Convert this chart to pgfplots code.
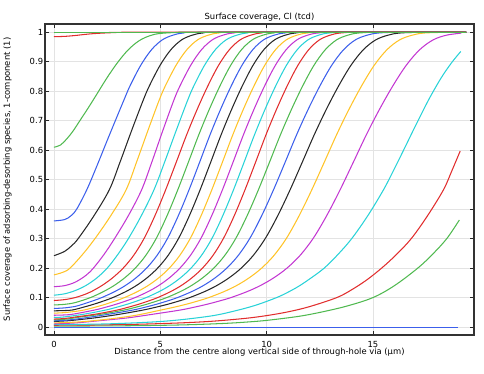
\documentclass[border=0pt]{standalone}
\usepackage{pgfplots}
\pgfplotsset{compat=1.18}
\usepackage{fontspec}
\setmainfont{DejaVu Sans}
\definecolor{colB}{RGB}{60,95,235}
\definecolor{colG}{RGB}{80,185,80}
\definecolor{colR}{RGB}{225,45,45}
\definecolor{colC}{RGB}{40,210,215}
\definecolor{colM}{RGB}{195,55,210}
\definecolor{colY}{RGB}{255,195,40}
\definecolor{colK}{RGB}{40,40,40}
\newcommand{\lblfont}{\fontsize{8.4}{10}\selectfont}
\pgfplotsset{cl/.style={line width=1.05pt, smooth, tension=0.55, mark=none}}
\begin{document}
\begin{tikzpicture}
\path[use as bounding box] (-45pt,-38pt) rectangle (439pt,335pt);
\begin{axis}[
  at={(0pt,0pt)}, anchor=south west, scale only axis,
  width=429pt, height=311pt,
  xmin=-0.42, xmax=19.75, ymin=-0.027, ymax=1.028,
  xtick={0,5,10,15}, xticklabels={0,5,10,15},
  ytick={0,0.1,0.2,0.3,0.4,0.5,0.6,0.7,0.8,0.9,1},
  yticklabels={0,0.1,0.2,0.3,0.4,0.5,0.6,0.7,0.8,0.9,1},
  grid=major, major grid style={draw=black!11, line width=0.7pt},
  tick align=inside, major tick length=4pt,
  tick style={black!85, line width=0.8pt},
  axis line style={black!80, line width=1.2pt},
  every tick label/.append style={font=\lblfont},
  yticklabel style={inner sep=0pt, xshift=-1.7pt},
  xticklabel style={inner sep=0pt, yshift=-6pt},
]
\addplot[cl,colB] coordinates {(0,0) (18.99,0)};
% green, ends at 0.363
\addplot[cl,colG] coordinates {(0,0.0032)(3,0.0041)(5,0.0058)(6.5,0.0082)(8,0.0123)(9,0.0166)(10,0.0226)(11.5,0.0362)(12.59,0.051)(13.8,0.0717)(15.0,0.100)(16.0,0.140)(17.1,0.1995)(17.8,0.2468)(18.47,0.300)(19.06,0.363)};
% red, ends at 0.597
\addplot[cl,colR] coordinates {(0,0.0061)(2,0.0071)(4,0.0096)(6,0.0142)(7.5,0.020)(9,0.0295)(10,0.0388)(11,0.0515)(12,0.0689)(13.3,0.100)(14.0,0.1266)(14.7,0.1595)(15.4,0.1995)(16.1,0.2458)(16.8,0.300)(17.55,0.3759)(18.31,0.465)(18.7,0.5286)(19.10,0.597)};
% cyan, ends at 0.935
\addplot[cl,colC] coordinates {(0,0.008)(2.62,0.011)(5.24,0.020)(7.33,0.037)(8.5,0.0546)(9.5,0.0744)(10.47,0.100)(11.0,0.118)(11.5,0.138)(12.0,0.162)(12.7,0.1995)(13.35,0.246)(14.0,0.300)(14.75,0.377)(15.49,0.465)(16.0,0.536)(16.5,0.609)(17.0,0.683)(17.61,0.770)(18.2,0.8445)(18.7,0.897)(19.13,0.935)};
% magenta
\addplot[cl,colM] coordinates {(0,0.011)(1.0,0.014)(2.2,0.022)(3.45,0.031)(4.70,0.044)(5.95,0.0578)(6.575,0.067)(7.2,0.0773)(7.825,0.0893)(8.325,0.100)(9.075,0.120)(9.70,0.1405)(10.325,0.1665)(10.95,0.1995)(11.575,0.2432)(12.2,0.302)(12.825,0.378)(13.45,0.465)(14.075,0.559)(14.7,0.654)(15.325,0.741)(15.95,0.820)(16.575,0.889)(17.2,0.941)(17.825,0.974)(18.45,0.990)(19.15,0.997)};
% yellow
\addplot[cl,colY] coordinates {(0,0.014)(0.8,0.016)(1.5,0.019)(2.68,0.028)(3.86,0.040)(5.04,0.0578)(5.63,0.067)(6.22,0.0773)(6.81,0.0893)(7.28,0.100)(7.99,0.120)(8.58,0.1405)(9.17,0.1665)(9.76,0.1995)(10.35,0.2432)(10.94,0.302)(11.53,0.378)(12.12,0.465)(12.71,0.559)(13.30,0.654)(13.89,0.741)(14.48,0.820)(15.07,0.889)(15.66,0.941)(16.25,0.974)(16.84,0.990)(17.43,0.9975)(18.61,1)(19.38,1)};
% black
\addplot[cl,colK] coordinates {(0,0.019)(0.75,0.022)(1.9,0.031)(3.05,0.043)(4.20,0.0578)(4.775,0.067)(5.35,0.0773)(5.925,0.0893)(6.385,0.100)(7.075,0.120)(7.65,0.1405)(8.225,0.1665)(8.80,0.1995)(9.375,0.2432)(9.95,0.302)(10.525,0.378)(11.10,0.465)(11.675,0.559)(12.25,0.654)(12.825,0.741)(13.40,0.820)(13.975,0.889)(14.55,0.941)(15.125,0.974)(15.70,0.990)(16.275,0.9975)(17.425,1)(19.38,1)};
% blue
\addplot[cl,colB] coordinates {(0,0.021)(0.75,0.0245)(1.52,0.0318)(2.62,0.044)(3.72,0.0578)(4.27,0.067)(4.82,0.0773)(5.37,0.0893)(5.81,0.100)(6.47,0.120)(7.02,0.1405)(7.57,0.1665)(8.12,0.1995)(8.67,0.2432)(9.22,0.302)(9.77,0.378)(10.32,0.465)(10.87,0.559)(11.42,0.654)(11.97,0.741)(12.52,0.820)(13.07,0.889)(13.62,0.941)(14.17,0.974)(14.72,0.990)(15.27,0.9975)(16.37,1)(19.38,1)};
% green
\addplot[cl,colG] coordinates {(0,0.024)(0.6,0.027)(1.21,0.0338)(2.26,0.044)(3.31,0.0578)(3.835,0.067)(4.36,0.0773)(4.885,0.0893)(5.305,0.100)(5.935,0.120)(6.46,0.1405)(6.985,0.1665)(7.51,0.1995)(8.035,0.2432)(8.56,0.302)(9.085,0.378)(9.61,0.465)(10.135,0.559)(10.66,0.654)(11.185,0.741)(11.71,0.820)(12.235,0.889)(12.76,0.941)(13.285,0.974)(13.81,0.990)(14.335,0.9975)(15.385,1)(19.38,1)};
% red
\addplot[cl,colR] coordinates {(0,0.027)(0.5,0.029)(0.98,0.0338)(1.98,0.044)(2.98,0.0578)(3.48,0.067)(3.98,0.0773)(4.48,0.0893)(4.88,0.100)(5.48,0.120)(5.98,0.1405)(6.48,0.1665)(6.98,0.1995)(7.48,0.2432)(7.98,0.302)(8.48,0.378)(8.98,0.465)(9.48,0.559)(9.98,0.654)(10.48,0.741)(10.98,0.820)(11.48,0.889)(11.98,0.941)(12.48,0.974)(12.98,0.990)(13.48,0.9975)(14.48,1)(19.38,1)};
% cyan
\addplot[cl,colC] coordinates {(0,0.033)(0.44,0.034)(1.44,0.044)(2.44,0.0578)(2.94,0.067)(3.44,0.0773)(3.94,0.0893)(4.34,0.100)(4.94,0.120)(5.44,0.1405)(5.94,0.1665)(6.44,0.1995)(6.94,0.2432)(7.44,0.302)(7.94,0.378)(8.44,0.465)(8.94,0.559)(9.44,0.654)(9.94,0.741)(10.44,0.820)(10.94,0.889)(11.44,0.941)(11.94,0.974)(12.44,0.990)(12.94,0.9975)(13.94,1)(19.38,1)};
% magenta
\addplot[cl,colM] coordinates {(0,0.040)(0.5,0.041)(0.92,0.044)(1.92,0.0578)(2.42,0.067)(2.92,0.0773)(3.42,0.0893)(3.82,0.100)(4.42,0.120)(4.92,0.1405)(5.42,0.1665)(5.92,0.1995)(6.42,0.2432)(6.92,0.302)(7.42,0.378)(7.92,0.465)(8.42,0.559)(8.92,0.654)(9.42,0.741)(9.92,0.820)(10.42,0.889)(10.92,0.941)(11.42,0.974)(11.92,0.990)(12.42,0.9975)(13.42,1)(19.38,1)};
% yellow
\addplot[cl,colY] coordinates {(0,0.047)(0.5,0.049)(1.0,0.053)(1.42,0.0578)(1.92,0.067)(2.42,0.0773)(2.92,0.0893)(3.32,0.100)(3.92,0.120)(4.42,0.1405)(4.92,0.1665)(5.42,0.1995)(5.92,0.2432)(6.42,0.302)(6.92,0.378)(7.42,0.465)(7.92,0.559)(8.42,0.654)(8.92,0.741)(9.42,0.820)(9.92,0.889)(10.42,0.941)(10.92,0.974)(11.42,0.990)(11.92,0.9975)(12.92,1)(19.38,1)};
% black
\addplot[cl,colK] coordinates {(0,0.055)(0.5,0.056)(0.87,0.0578)(1.37,0.067)(1.87,0.0773)(2.37,0.0893)(2.77,0.100)(3.37,0.120)(3.87,0.1405)(4.37,0.1665)(4.87,0.1995)(5.37,0.2432)(5.87,0.302)(6.37,0.378)(6.87,0.465)(7.37,0.559)(7.87,0.654)(8.37,0.741)(8.87,0.820)(9.37,0.889)(9.87,0.941)(10.37,0.974)(10.87,0.990)(11.37,0.9975)(12.37,1)(19.38,1)};
% blue
\addplot[cl,colB] coordinates {(0,0.063)(0.5,0.065)(1.0,0.070)(1.35,0.0773)(1.85,0.0893)(2.25,0.100)(2.85,0.120)(3.35,0.1405)(3.85,0.1665)(4.35,0.1995)(4.85,0.2432)(5.35,0.302)(5.85,0.378)(6.35,0.465)(6.85,0.559)(7.35,0.654)(7.85,0.741)(8.35,0.820)(8.85,0.889)(9.35,0.941)(9.85,0.974)(10.35,0.990)(10.85,0.9975)(11.85,1)(19.38,1)};
% green
\addplot[cl,colG] coordinates {(0,0.075)(0.5,0.077)(1.0,0.083)(1.72,0.100)(2.32,0.120)(2.82,0.1405)(3.32,0.1665)(3.82,0.1995)(4.32,0.2432)(4.82,0.302)(5.32,0.378)(5.82,0.465)(6.32,0.559)(6.82,0.654)(7.32,0.741)(7.82,0.820)(8.32,0.889)(8.82,0.941)(9.32,0.974)(9.82,0.990)(10.32,0.9975)(11.32,1)(19.38,1)};
% red
\addplot[cl,colR] coordinates {(0,0.090)(0.5,0.093)(1.0,0.100)(1.5,0.112)(1.75,0.120)(2.25,0.1405)(2.75,0.1665)(3.25,0.1995)(3.75,0.2432)(4.25,0.302)(4.75,0.378)(5.25,0.465)(5.75,0.559)(6.25,0.654)(6.75,0.741)(7.25,0.820)(7.75,0.889)(8.25,0.941)(8.75,0.974)(9.25,0.990)(9.75,0.9975)(10.75,1)(19.38,1)};
% cyan
\addplot[cl,colC] coordinates {(0,0.108)(0.5,0.1127)(1.0,0.1237)(1.5,0.1408)(2.0,0.1656)(2.5,0.1995)(3.0,0.2458)(3.5,0.300)(4.1,0.3765)(4.7,0.465)(5.2,0.5588)(5.75,0.667)(6.29,0.770)(6.59,0.820)(7.09,0.889)(7.59,0.941)(8.09,0.974)(8.59,0.990)(9.09,0.9975)(10.09,1)(19.38,1)};
% magenta
\addplot[cl,colM] coordinates {(0,0.137)(0.5,0.1404)(1.0,0.1522)(1.5,0.1750)(1.85,0.1995)(2.35,0.2458)(2.85,0.300)(3.5,0.378)(4.12,0.465)(4.6,0.559)(5.1,0.6626)(5.64,0.770)(5.94,0.820)(6.44,0.889)(6.94,0.941)(7.44,0.974)(7.94,0.990)(8.44,0.9975)(9.44,1)(19.38,1)};
% yellow
\addplot[cl,colY] coordinates {(0,0.177)(0.4,0.1852)(0.75,0.1995)(1.35,0.2466)(1.93,0.300)(2.65,0.3753)(3.39,0.465)(3.9,0.5627)(4.45,0.6728)(4.95,0.770)(5.25,0.820)(5.75,0.889)(6.25,0.941)(6.75,0.974)(7.25,0.990)(7.75,0.9975)(8.75,1)(19.38,1)};
% black
\addplot[cl,colK] coordinates {(0,0.242)(0.5,0.2565)(0.85,0.277)(1.14,0.300)(1.85,0.374)(2.60,0.465)(3.1,0.558)(3.65,0.666)(4.20,0.770)(4.5,0.820)(5.0,0.889)(5.5,0.941)(6.0,0.974)(6.5,0.990)(7.0,0.9975)(8.0,1)(19.38,1)};
% blue
\addplot[cl,colB] coordinates {(0,0.360)(0.5,0.3645)(0.8,0.3774)(1.07,0.400)(1.54,0.465)(2.0,0.543)(2.6,0.6499)(3.29,0.770)(3.59,0.820)(4.09,0.889)(4.59,0.941)(5.09,0.974)(5.59,0.990)(6.09,0.9975)(7.09,1)(19.38,1)};
% green
\addplot[cl,colG] coordinates {(0,0.610)(0.3,0.617)(0.6,0.638)(0.9,0.665)(1.2,0.698)(1.6,0.742)(2.0,0.788)(2.5,0.846)(3.0,0.898)(3.5,0.941)(4.0,0.971)(4.5,0.988)(5.0,0.996)(6.0,0.9998)(7,1)(19.38,1)};
% top red
\addplot[cl,colR] coordinates {(0,0.985)(0.5,0.986)(1.0,0.989)(1.5,0.993)(2.0,0.996)(2.9,0.999)(4,1)(19.38,1)};
% top green
\addplot[cl,colG] coordinates {(0,1)(19.38,1)};
\end{axis}
\node[font=\lblfont, anchor=base] at (214.5pt,315.7pt) {Surface coverage, Cl (tcd)};
\node[font=\lblfont, anchor=base] at (214.5pt,-19.3pt) {Distance from the centre along vertical side of through-hole via (µm)};
\node[font=\lblfont, rotate=90, anchor=base] at (-35pt,155.5pt) {Surface coverage of adsorbing-desorbing species, 1-component (1)};
\end{tikzpicture}
\end{document}
